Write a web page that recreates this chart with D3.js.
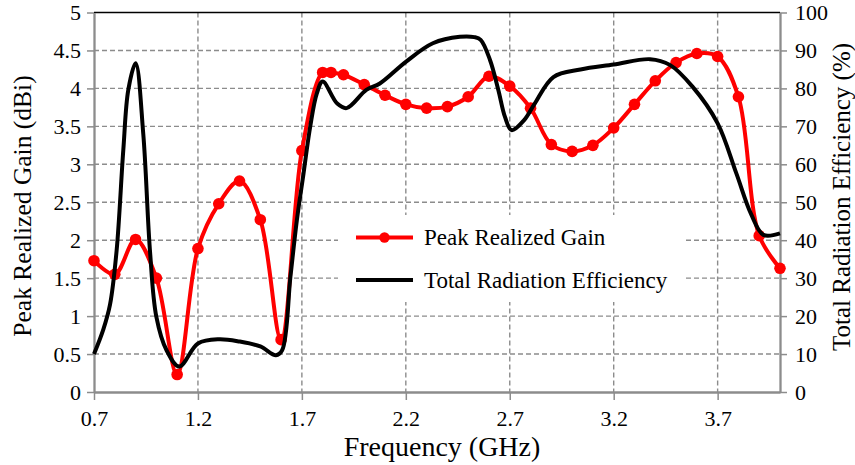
<!DOCTYPE html>
<html>
<head>
<meta charset="utf-8">
<script src="https://cdn.jsdelivr.net/npm/d3@7"></script>
<style>
  body { margin: 0; background: #fff; }
  svg text { font-family: "Liberation Serif", "Times New Roman", Tinos, "DejaVu Serif", serif; }
</style>
</head>
<body>
<svg id="chart" width="855" height="465"></svg>
<script>
// peak realized gain (dBi), markers
const gainFreq = [0.7, 0.8, 0.9, 1.0, 1.1, 1.2, 1.3, 1.4, 1.5, 1.6, 1.7, 1.8, 1.84, 1.9, 2.0, 2.1, 2.2, 2.3, 2.4, 2.5, 2.6, 2.7, 2.8, 2.9, 3.0, 3.1, 3.2, 3.3, 3.4, 3.5, 3.6, 3.7, 3.8, 3.9, 4.0];
const gainValues = [1.73, 1.55, 2.01, 1.5, 0.23, 1.89, 2.48, 2.78, 2.27, 0.69, 3.18, 4.21, 4.21, 4.18, 4.05, 3.91, 3.79, 3.74, 3.76, 3.89, 4.16, 4.03, 3.74, 3.26, 3.17, 3.25, 3.48, 3.79, 4.1, 4.34, 4.46, 4.42, 3.89, 2.06, 1.63];

// total radiation efficiency (%), smooth line
const effFreq = [0.7, 0.745, 0.777, 0.809, 0.841, 0.865, 0.9, 0.937, 0.969, 1.0, 1.049, 1.11, 1.2, 1.3, 1.4, 1.5, 1.575, 1.605, 1.645, 1.676, 1.708, 1.74, 1.772, 1.8, 1.87, 1.915, 2.01, 2.075, 2.2, 2.33, 2.46, 2.53, 2.56, 2.605, 2.645, 2.677, 2.709, 2.77, 2.82, 2.91, 3.04, 3.2, 3.375, 3.47, 3.58, 3.7, 3.79, 3.86, 3.92, 4.0];
const effValues = [10, 16.5, 23, 37.4, 63.8, 79.6, 86.6, 68, 37.4, 19.8, 11, 6.7, 12.8, 13.9, 13.3, 12, 9.7, 11, 30.4, 45.3, 57.6, 69.9, 78.7, 81.8, 76, 74.8, 79.6, 81.3, 87, 91.9, 93.6, 93.5, 92.8, 87.5, 79.6, 72.5, 69, 71.7, 76, 83, 85, 86.3, 87.7, 86.2, 80.4, 70.8, 57.6, 47, 41.4, 41.8];

const xTicks = [0.7, 1.2, 1.7, 2.2, 2.7, 3.2, 3.7];
const gainTicks = [0, 0.5, 1, 1.5, 2, 2.5, 3, 3.5, 4, 4.5, 5];
const effTicks = [0, 10, 20, 30, 40, 50, 60, 70, 80, 90, 100];

const svg = d3.select("#chart");
const plotL = 94, plotR = 780, plotT = 12.5, plotB = 392;
const grey = "#8c8c8c";
const serif = '"Liberation Serif", "Times New Roman", Tinos, "DejaVu Serif", serif';

const x = d3.scaleLinear().domain([0.7, 4.0]).range([plotL, plotR]);
const yL = d3.scaleLinear().domain([0, 5]).range([plotB, plotT]);
const yR = d3.scaleLinear().domain([0, 100]).range([plotB, plotT]);

// grid
svg.append("g").selectAll("line")
    .data(gainTicks.filter(d => d > 0 && d < 5))
    .enter().append("line")
    .attr("x1", plotL).attr("x2", plotR)
    .attr("y1", d => yL(d)).attr("y2", d => yL(d))
    .attr("stroke", grey).attr("stroke-width", 1.4)
    .attr("stroke-dasharray", "5,3");

svg.append("g").selectAll("line")
    .data(xTicks.filter(d => d > 0.7))
    .enter().append("line")
    .attr("x1", d => x(d)).attr("x2", d => x(d))
    .attr("y1", plotT).attr("y2", plotB)
    .attr("stroke", grey).attr("stroke-width", 1.4)
    .attr("stroke-dasharray", "5,3");

// top border
svg.append("line")
    .attr("x1", plotL).attr("x2", plotR)
    .attr("y1", plotT).attr("y2", plotT)
    .attr("stroke", "#000").attr("stroke-width", 1.5);

// axes
const xAxis = svg.append("g")
    .attr("transform", `translate(0,${plotB})`)
    .call(d3.axisBottom(x).tickValues(xTicks).tickFormat(d3.format(".1f")).tickSize(8).tickSizeOuter(0));

const lAxis = svg.append("g")
    .attr("transform", `translate(${plotL},0)`)
    .call(d3.axisLeft(yL).tickValues(gainTicks).tickFormat(d => String(d)).tickSize(7).tickSizeOuter(0).tickPadding(6));

const rAxis = svg.append("g")
    .attr("transform", `translate(${plotR},0)`)
    .call(d3.axisRight(yR).tickValues(effTicks).tickFormat(d => String(d)).tickSize(7).tickSizeOuter(0).tickPadding(8));

[xAxis, lAxis, rAxis].forEach(g => {
    g.attr("font-family", serif).attr("font-size", 22);
    g.select(".domain").attr("stroke", grey).attr("stroke-width", 2.3);
    g.selectAll(".tick line").attr("stroke", grey).attr("stroke-width", 1.5);
    g.selectAll(".tick text").attr("fill", "#000");
});
xAxis.selectAll(".tick text").attr("y", 18).attr("dy", "0.71em");

// series
const gainLine = d3.line()
    .x((d, i) => x(gainFreq[i]))
    .y(d => yL(d))
    .curve(d3.curveCatmullRom.alpha(0.5));

svg.append("path")
    .datum(gainValues)
    .attr("d", gainLine)
    .attr("fill", "none")
    .attr("stroke", "#ff0000")
    .attr("stroke-width", 4);

svg.append("g").selectAll("circle")
    .data(gainValues)
    .enter().append("circle")
    .attr("cx", (d, i) => x(gainFreq[i]))
    .attr("cy", d => yL(d))
    .attr("r", 5.8)
    .attr("fill", "#ff0000");

const effLine = d3.line()
    .x((d, i) => x(effFreq[i]))
    .y(d => yR(d))
    .curve(d3.curveCatmullRom.alpha(0.5));

svg.append("path")
    .datum(effValues)
    .attr("d", effLine)
    .attr("fill", "none")
    .attr("stroke", "#000")
    .attr("stroke-width", 4)
    .attr("stroke-linejoin", "round");

// legend
const legend = svg.append("g");
legend.append("rect")
    .attr("x", 338).attr("y", 215)
    .attr("width", 347).attr("height", 87)
    .attr("fill", "#fff");

legend.append("line")
    .attr("x1", 356).attr("x2", 413)
    .attr("y1", 237.5).attr("y2", 237.5)
    .attr("stroke", "#ff0000").attr("stroke-width", 4);
legend.append("circle")
    .attr("cx", 384.5).attr("cy", 237.5).attr("r", 5.2)
    .attr("fill", "#ff0000");
legend.append("text")
    .attr("x", 424).attr("y", 245)
    .attr("font-family", serif).attr("font-size", 23)
    .text("Peak Realized Gain");

legend.append("line")
    .attr("x1", 356).attr("x2", 413)
    .attr("y1", 280).attr("y2", 280)
    .attr("stroke", "#000").attr("stroke-width", 4);
legend.append("text")
    .attr("x", 424).attr("y", 288)
    .attr("font-family", serif).attr("font-size", 23)
    .text("Total Radiation Efficiency");

// titles
svg.append("text")
    .attr("x", 442).attr("y", 456)
    .attr("text-anchor", "middle")
    .attr("font-family", serif).attr("font-size", 28)
    .text("Frequency (GHz)");

svg.append("text")
    .attr("transform", "translate(31,206) rotate(-90)")
    .attr("text-anchor", "middle")
    .attr("font-family", serif).attr("font-size", 25.5)
    .text("Peak Realized Gain (dBi)");

svg.append("text")
    .attr("transform", "translate(850,197) rotate(-90)")
    .attr("text-anchor", "middle")
    .attr("font-family", serif).attr("font-size", 25)
    .text("Total Radiation Efficiency (%)");
</script>
</body>
</html>
